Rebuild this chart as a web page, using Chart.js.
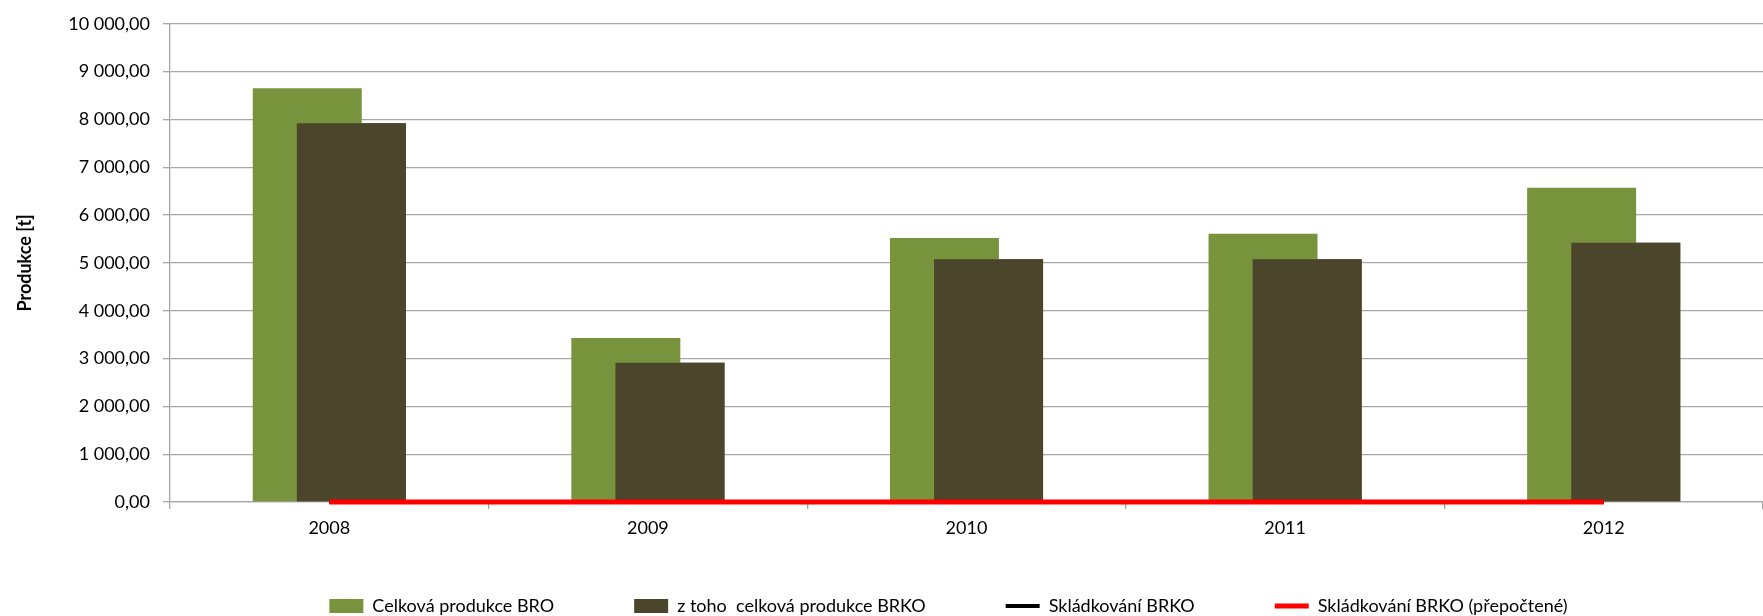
<!DOCTYPE html>
<html>
<head>
<meta charset="utf-8">
<script src="https://cdn.jsdelivr.net/npm/chart.js@4"></script>
<style>
  body { margin: 0; background: #fff; }
  #wrap { width: 1763px; height: 616px; }
</style>
</head>
<body>
<div id="wrap"><canvas id="chart"></canvas></div>
<script>
// values
const years = ['2008', '2009', '2010', '2011', '2012'];
const celkovaBRO = [8650, 3430, 5520, 5610, 6570];
const celkovaBRKO = [7920, 2910, 5075, 5075, 5420];
const skladkovaniBRKO = [0, 0, 0, 0, 0];
const skladkovaniPrepoctene = [0, 0, 0, 0, 0];
const yMin = 0, yMax = 10000, yStep = 1000;

const gridGrey = '#a6a6a6';

// 10000 -> "10 000,00"
function czNumber(v) {
    return v.toFixed(2).replace('.', ',').replace(/\B(?=(\d{3})+(?!\d))/g, ' ');
}

// legend spacing + keeps the BRKO bars above the BRO bars while still sitting right of them
const layering = {
    id: 'layering',
    beforeInit(chart) {
        const legend = chart.legend;
        const fit = legend.fit;
        legend.fit = function () { fit.call(this); this.height = 70; };
    },
    afterLayout(chart) {
        const legend = chart.legend;
        legend.top = legend.bottom - 99;
        legend.left -= 18;
        legend.right -= 18;
    },
    afterDatasetDraw(chart, args) {
        if (args.index === 0) {
            chart.getDatasetMeta(1).controller.draw();
        }
    }
};

Chart.defaults.font.family = 'Lato';
Chart.defaults.font.size = 18;
Chart.defaults.color = '#000';

new Chart(document.getElementById('chart'), {
    type: 'bar',
    data: {
        labels: years,
        datasets: [{
            label: 'Celková produkce BRO',
            data: celkovaBRO,
            backgroundColor: '#77933c',
            pointStyle: 'rect',
            categoryPercentage: 0.277,
            barPercentage: 2.47,
            order: 2
        }, {
            label: 'z toho  celková produkce BRKO',
            data: celkovaBRKO,
            backgroundColor: '#4b452b',
            pointStyle: 'rect',
            categoryPercentage: 0.277,
            barPercentage: 2.47,
            order: 3
        }, {
            type: 'line',
            label: 'Skládkování BRKO',
            data: skladkovaniBRKO,
            borderColor: '#000',
            backgroundColor: '#000',
            borderWidth: 4,
            pointRadius: 0,
            pointStyle: 'line',
            clip: false,
            order: 1
        }, {
            type: 'line',
            label: 'Skládkování BRKO (přepočtené)',
            data: skladkovaniPrepoctene,
            borderColor: '#ff0000',
            backgroundColor: '#ff0000',
            borderWidth: 5,
            pointRadius: 0,
            pointStyle: 'line',
            clip: false,
            order: 0
        }]
    },
    options: {
        responsive: true,
        maintainAspectRatio: false,
        animation: false,
        layout: { padding: { left: 14, top: 21, right: -5, bottom: 0 } },
        scales: {
            x: {
                grid: { display: true, drawOnChartArea: false, offset: true, tickLength: 7, color: gridGrey, lineWidth: 1.3 },
                border: { color: gridGrey, width: 1.3 },
                ticks: { padding: 8 },
                afterFit: s => { s.height = 44; }
            },
            y: {
                min: yMin,
                max: yMax,
                grid: { color: gridGrey, lineWidth: 1.3, tickLength: 7 },
                border: { color: gridGrey, width: 1.3 },
                ticks: { stepSize: yStep, padding: 13, callback: v => czNumber(v) },
                title: { display: true, text: 'Produkce [t]', font: { weight: 'bold', size: 18 }, padding: 0 },
                afterFit: s => { s.width = 156; }
            }
        },
        plugins: {
            tooltip: { enabled: false },
            legend: {
                position: 'bottom',
                fullSize: false,
                labels: {
                    usePointStyle: true,
                    pointStyleWidth: 34,
                    boxHeight: 14,
                    padding: 80,
                    sort: (a, b) => a.datasetIndex - b.datasetIndex
                }
            }
        }
    },
    plugins: [layering]
});
</script>
</body>
</html>
